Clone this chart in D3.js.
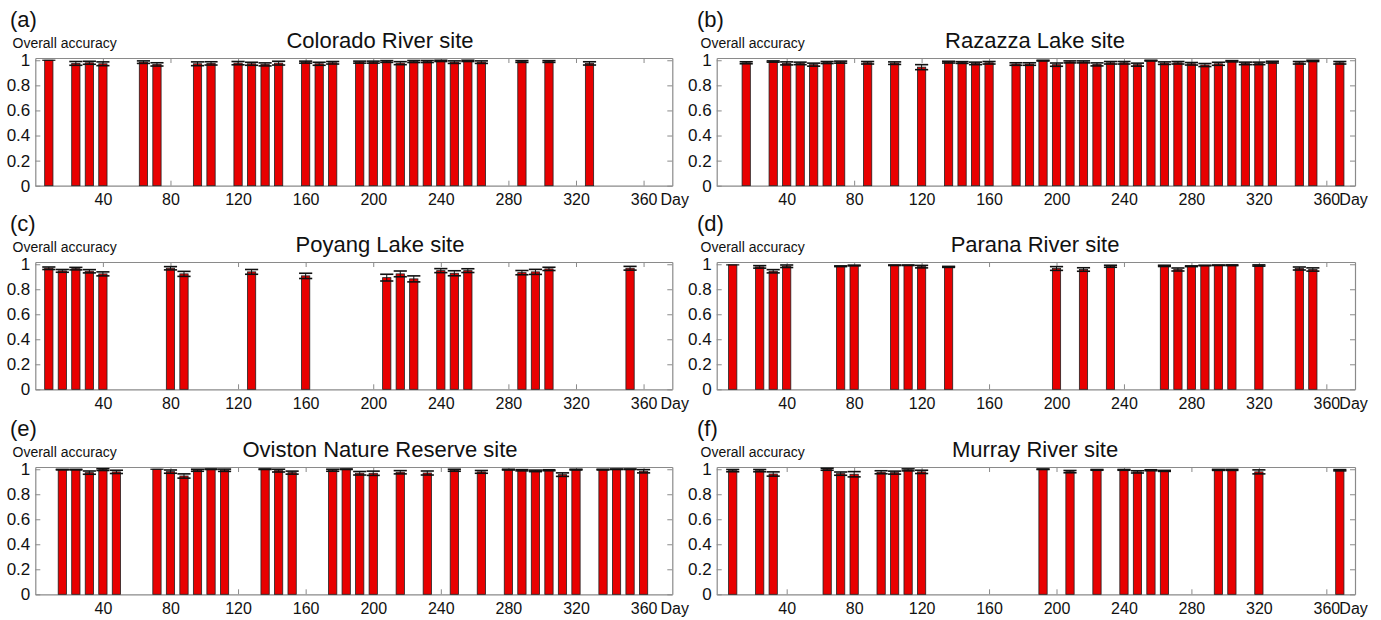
<!DOCTYPE html>
<html>
<head>
<meta charset="utf-8">
<script src="https://cdn.jsdelivr.net/npm/d3@7/dist/d3.min.js"></script>
<style>
  html, body { margin: 0; padding: 0; background: #fff; }
  svg { display: block; font-family: Arial, "Liberation Sans", sans-serif; }
</style>
</head>
<body>
<svg id="chart" width="1381" height="620"></svg>
<script>
// ---------------- DATA ----------------
const panelLetters = ["(a)", "(b)", "(c)", "(d)", "(e)", "(f)"];
const siteNames = ["Colorado River site", "Razazza Lake site", "Poyang Lake site",
                   "Parana River site", "Oviston Nature Reserve site", "Murray River site"];
const yLabel = "Overall accuracy";
const xTickValues = [40, 80, 120, 160, 200, 240, 280, 320, 360];
const yTickValues = [0, 0.2, 0.4, 0.6, 0.8, 1];
const xUnit = "Day";

const coloradoDays = [8,24,32,40,64,72,96,104,120,128,136,144,160,168,176,192,200,208,216,224,232,240,248,256,264,288,304,328];
const coloradoAcc  = [1.0,0.975,0.98,0.972,0.985,0.967,0.972,0.975,0.977,0.972,0.967,0.977,0.985,0.972,0.98,0.985,0.985,0.99,0.977,0.99,0.99,0.995,0.985,0.995,0.985,0.99,0.99,0.975];
const coloradoErr  = [0,0.015,0.012,0.015,0.01,0.013,0.015,0.013,0.013,0.012,0.012,0.015,0.008,0.012,0.01,0.008,0.008,0.007,0.012,0.008,0.008,0.005,0.01,0.005,0.01,0.007,0.007,0.013];

const razazzaDays = [16,32,40,48,56,64,72,88,104,120,136,144,152,160,176,184,192,200,208,216,224,232,240,248,256,264,272,280,288,296,304,312,320,328,344,352,368];
const razazzaAcc  = [0.98,0.99,0.975,0.975,0.965,0.982,0.985,0.98,0.977,0.945,0.985,0.982,0.975,0.98,0.97,0.97,0.997,0.965,0.987,0.987,0.967,0.98,0.98,0.965,0.997,0.977,0.98,0.972,0.962,0.972,0.992,0.975,0.975,0.985,0.98,0.995,0.98];
const razazzaErr  = [0.008,0.005,0.012,0.01,0.012,0.008,0.008,0.01,0.01,0.02,0.007,0.007,0.01,0.01,0.01,0.01,0.003,0.013,0.008,0.008,0.012,0.01,0.01,0.012,0.003,0.01,0.01,0.01,0.012,0.012,0.005,0.01,0.01,0.007,0.01,0.005,0.01];

const poyangDays = [8,16,24,32,40,80,88,128,160,208,216,224,240,248,256,288,296,304,352];
const poyangAcc  = [0.968,0.947,0.965,0.944,0.923,0.968,0.923,0.939,0.907,0.893,0.923,0.883,0.949,0.928,0.949,0.933,0.939,0.963,0.968];
const poyangErr  = [0.01,0.011,0.01,0.013,0.016,0.013,0.02,0.019,0.021,0.027,0.023,0.024,0.016,0.02,0.015,0.017,0.02,0.013,0.015];

const paranaDays = [8,24,32,40,72,80,104,112,120,136,200,216,232,264,272,280,288,296,304,320,344,352];
const paranaAcc  = [0.995,0.979,0.944,0.984,0.984,0.99,0.992,0.992,0.981,0.979,0.966,0.958,0.984,0.987,0.958,0.984,0.99,0.992,0.992,0.99,0.966,0.958];
const paranaErr  = [0,0.01,0.013,0.01,0.003,0.003,0.002,0.002,0.01,0.004,0.015,0.014,0.008,0.005,0.012,0.003,0.002,0.002,0.003,0.005,0.012,0.013];

const ovistonDays = [16,24,32,40,48,72,80,88,96,104,112,136,144,152,176,184,192,200,216,232,248,264,280,288,296,304,312,320,336,344,352,360];
const ovistonAcc  = [0.997,0.997,0.973,0.997,0.979,1.0,0.981,0.946,0.992,1.0,0.992,1.0,0.989,0.973,0.992,1.0,0.968,0.968,0.976,0.97,0.992,0.979,0.997,0.992,0.987,0.992,0.957,0.997,0.997,1.0,1.0,0.984];
const ovistonErr  = [0.002,0.002,0.013,0.007,0.013,0,0.013,0.017,0.008,0.002,0.009,0.002,0.011,0.012,0.008,0.002,0.014,0.017,0.013,0.016,0.008,0.011,0.003,0.005,0.006,0.004,0.014,0.003,0.003,0.002,0.002,0.013];

const murrayDays = [8,24,32,64,72,80,96,104,112,120,192,208,224,240,248,256,264,296,304,320,368];
const murrayAcc  = [0.989,0.989,0.962,1.0,0.965,0.96,0.976,0.973,0.995,0.979,1.0,0.981,0.995,0.995,0.979,0.992,0.987,0.995,0.995,0.979,0.992];
const murrayErr  = [0.009,0.009,0.017,0.008,0.013,0.021,0.012,0.012,0.008,0.013,0.002,0.009,0.003,0.003,0.009,0.004,0.004,0.004,0.004,0.016,0.005];

const allDays = [coloradoDays, razazzaDays, poyangDays, paranaDays, ovistonDays, murrayDays];
const allAcc  = [coloradoAcc, razazzaAcc, poyangAcc, paranaAcc, ovistonAcc, murrayAcc];
const allErr  = [coloradoErr, razazzaErr, poyangErr, paranaErr, ovistonErr, murrayErr];

// ---------------- LAYOUT ----------------
const svg = d3.select("#chart");
const cols = [
  { left: 35.3, right: 672.3, xMin: 0, dayX: 17, letterX: 10, labelX: 12.5, titleX: 380 },
  { left: 716.7, right: 1355, xMin: -1.5, dayX: 13, letterX: 697, labelX: 700.5, titleX: 1035 }
];
const rows = [ { top: 58, bottom: 185.7 }, { top: 262, bottom: 389.3 }, { top: 467, bottom: 594.3 } ];
const xMax = 377;
const yMax = 1.018;
const boxColor = "#8a8a8a";
const barColor = "#e80000";

for (let p = 0; p < 6; p++) {
  const c = cols[p % 2], r = rows[Math.floor(p / 2)];
  const x = d3.scaleLinear().domain([c.xMin, xMax]).range([c.left, c.right]);
  const y = d3.scaleLinear().domain([0, yMax]).range([r.bottom, r.top]);
  const g = svg.append("g");

  const data = allDays[p].map((d, i) => ({ day: d, acc: allAcc[p][i], err: allErr[p][i] }));

  const axB = d3.axisBottom(x).tickValues(xTickValues).tickSizeInner(-5).tickSizeOuter(0).tickFormat(d3.format("d"));
  const axT = d3.axisTop(x).tickValues(xTickValues).tickSizeInner(-5).tickSizeOuter(0).tickFormat("");
  const axL = d3.axisLeft(y).tickValues(yTickValues).tickSizeInner(-5).tickSizeOuter(0).tickFormat(d => d === 0 || d === 1 ? d3.format("d")(d) : d3.format(".1f")(d));
  const axR = d3.axisRight(y).tickValues(yTickValues).tickSizeInner(-5).tickSizeOuter(0).tickFormat("");

  const gB = g.append("g").attr("transform", `translate(0,${r.bottom})`).call(axB);
  const gT = g.append("g").attr("transform", `translate(0,${r.top})`).call(axT);
  const gL = g.append("g").attr("transform", `translate(${c.left},0)`).call(axL);
  const gR = g.append("g").attr("transform", `translate(${c.right},0)`).call(axR);
  [gB, gT, gL, gR].forEach(a => {
    a.selectAll(".domain").attr("stroke", boxColor).attr("stroke-width", 1.2);
    a.selectAll(".tick line").attr("stroke", boxColor).attr("stroke-width", 1);
    a.selectAll(".tick text").attr("fill", "#111").attr("font-family", "Arial, 'Liberation Sans', sans-serif");
  });
  gB.selectAll(".tick text").attr("font-size", 16).attr("y", 8).attr("dy", "0.71em");
  gL.selectAll(".tick text").attr("font-size", 17).attr("x", -5);

  g.append("text")
    .attr("x", x(360) + c.dayX)
    .attr("y", r.bottom + 8)
    .attr("dy", "0.71em")
    .attr("font-size", 16).attr("fill", "#111")
    .text(xUnit);

  const halfBar = 2.45, halfCap = 3.9;
  g.selectAll("rect.bar").data(data).join("rect")
    .attr("class", "bar")
    .attr("x", d => x(d.day - halfBar))
    .attr("width", d => x(d.day + halfBar) - x(d.day - halfBar))
    .attr("y", d => y(d.acc))
    .attr("height", d => y(0) - y(d.acc))
    .attr("fill", barColor)
    .attr("stroke", "#222")
    .attr("stroke-width", 0.8);

  const eb = g.selectAll("g.eb").data(data.filter(d => d.err > 0)).join("g").attr("class", "eb");
  eb.append("line")
    .attr("x1", d => x(d.day)).attr("x2", d => x(d.day))
    .attr("y1", d => y(d.acc - d.err)).attr("y2", d => y(Math.min(d.acc + d.err, yMax)))
    .attr("stroke", "#111").attr("stroke-width", 1);
  eb.append("line")
    .attr("x1", d => x(d.day - halfCap)).attr("x2", d => x(d.day + halfCap))
    .attr("y1", d => y(d.acc - d.err)).attr("y2", d => y(d.acc - d.err))
    .attr("stroke", "#111").attr("stroke-width", 1.6);
  eb.append("line")
    .attr("x1", d => x(d.day - halfCap)).attr("x2", d => x(d.day + halfCap))
    .attr("y1", d => y(Math.min(d.acc + d.err, yMax))).attr("y2", d => y(Math.min(d.acc + d.err, yMax)))
    .attr("stroke", "#111").attr("stroke-width", 1.6);
  g.selectAll("line.flat").data(data.filter(d => d.err === 0)).join("line")
    .attr("x1", d => x(d.day - halfCap)).attr("x2", d => x(d.day + halfCap))
    .attr("y1", d => y(d.acc)).attr("y2", d => y(d.acc))
    .attr("stroke", "#111").attr("stroke-width", 1.2);

  g.append("text").attr("x", c.letterX).attr("y", r.top - 31)
    .attr("font-size", 22).attr("fill", "#111").text(panelLetters[p]);
  g.append("text").attr("x", c.labelX)
    .attr("y", r.top - 10).attr("font-size", 14).attr("fill", "#111").text(yLabel);
  g.append("text").attr("x", c.titleX).attr("y", r.top - 10)
    .attr("text-anchor", "middle").attr("font-size", 22).attr("fill", "#111").text(siteNames[p]);
}
</script>
</body>
</html>
